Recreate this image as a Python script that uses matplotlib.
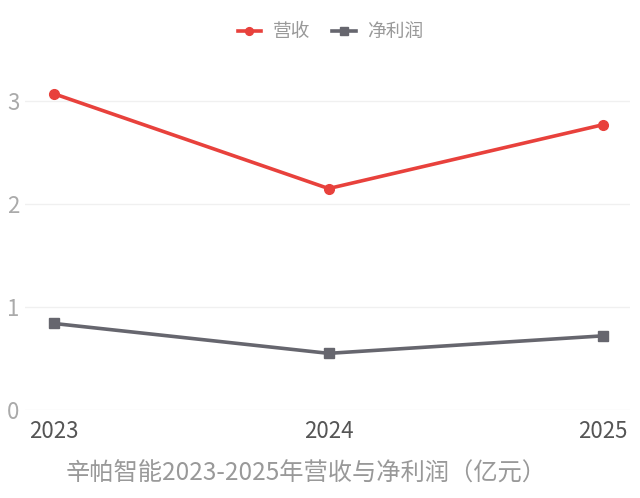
import matplotlib.pyplot as plt

plt.rcParams['font.family'] = ['Noto Sans CJK SC', 'DejaVu Sans']

years = ["2023", "2024", "2025"]
revenue = [3.07, 2.15, 2.77]      # 营收（亿元）
net_profit = [0.84, 0.55, 0.72]   # 净利润（亿元）

fig = plt.figure(figsize=(6.4, 4.98), dpi=100)
ax = fig.add_axes([25 / 640, 88 / 498, 605 / 640, 360.5 / 498])

x = range(len(years))
ax.plot(x, revenue, color="#e8413c", lw=2.6, marker="o", ms=7, label="营收")
ax.plot(x, net_profit, color="#66666e", lw=2.6, marker="s", ms=7, label="净利润")

ax.set_xlim(-0.106, 2.098)
ax.set_ylim(0, 3.5)
ax.set_yticks([0, 1, 2, 3])
ax.set_xticks(list(x))
ax.set_xticklabels(years)
ax.grid(axis="y", color="#f0f0f0", lw=1)
ax.set_axisbelow(True)
for s in ax.spines.values():
    s.set_visible(False)
ax.tick_params(axis="both", length=0)
ax.tick_params(axis="y", labelsize=16, labelcolor="#aaaaaa", pad=4)
ax.tick_params(axis="x", labelsize=16, labelcolor="#555555", pad=7)
for lbl in ax.get_yticklabels():
    lbl.set_fontweight("light")

ax.legend(loc="upper center", bbox_to_anchor=(0.505, 1.125), ncol=2, frameon=False,
          fontsize=13.5, labelcolor="#999999", handlelength=1.25, columnspacing=1.2,
          handletextpad=0.6, markerscale=0.8)

fig.text(0.478, 0.048, "辛帕智能2023-2025年营收与净利润（亿元）", ha="center", va="center",
         fontsize=17.5, color="#999999")

fig.savefig("out.png", dpi=100)
